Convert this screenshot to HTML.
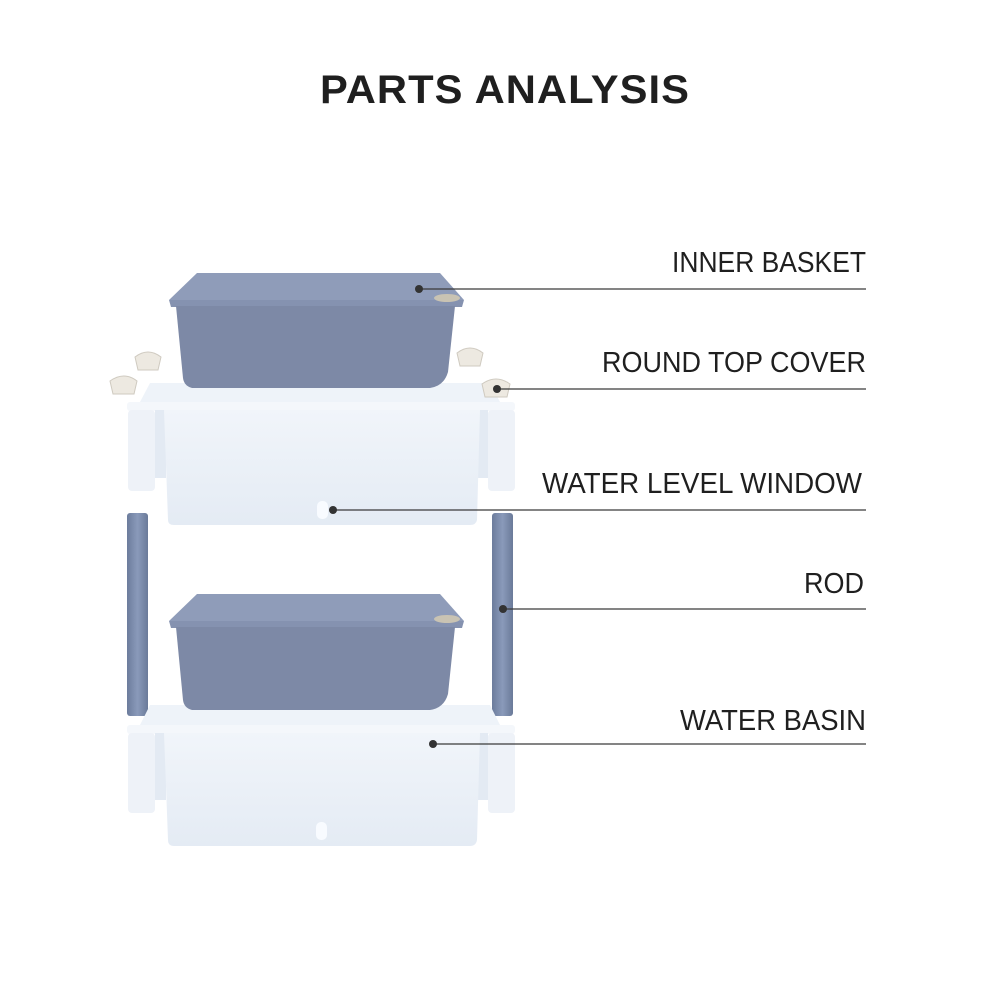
<!DOCTYPE html>
<html><head><meta charset="utf-8"><style>
html,body{margin:0;padding:0;background:#fff;}
svg{display:block;}
text{font-family:"Liberation Sans",sans-serif;fill:#1f1f1f;}
</style></head><body>
<svg width="1000" height="1000" viewBox="0 0 1000 1000" xmlns="http://www.w3.org/2000/svg">
<defs>
<linearGradient id="rod" x1="0" x2="1"><stop offset="0" stop-color="#6c7c9c"/><stop offset="0.5" stop-color="#8a9aba"/><stop offset="1" stop-color="#6a7a99"/></linearGradient>
<linearGradient id="white" x1="0" y1="0" x2="0" y2="1"><stop offset="0" stop-color="#f1f5fa"/><stop offset="1" stop-color="#e4ebf4"/></linearGradient>
</defs>
<text x="505" y="103" text-anchor="middle" font-size="40" font-weight="bold" textLength="370" lengthAdjust="spacingAndGlyphs" style="letter-spacing:1px">PARTS ANALYSIS</text>

<!-- upper white basin -->
<g>
<path d="M150 383 L490 383 L500 402 L140 402 Z" fill="#eef3f9"/>
<rect x="127" y="402" width="388" height="9" rx="3" fill="#f4f7fb"/>
<rect x="128" y="410" width="27" height="81" rx="4" fill="#eef2f8"/>
<rect x="488" y="410" width="27" height="81" rx="4" fill="#eef2f8"/>
<path d="M155 410 L166 410 L166 478 L155 478 Z" fill="#e3eaf3"/>
<path d="M478 410 L488 410 L488 478 L478 478 Z" fill="#e3eaf3"/>
<path d="M164 410 L480 410 L477 520 Q476 525 470 525 L174 525 Q168 525 168 520 Z" fill="url(#white)"/>
<rect x="317" y="501" width="11" height="18" rx="5" fill="#f8fbff"/>
</g>
<!-- upper gray basket -->
<g>
<path d="M197 273 L440 273 L464 300 L169 300 Z" fill="#8f9cb9"/>
<path d="M169 300 L464 300 L462 307 L171 307 Z" fill="#8592b0"/>
<path d="M176 306 L455 306 L448 372 Q444 386 430 388 L192 388 Q184 386 183 378 Z" fill="#7d89a6"/>
<ellipse cx="447" cy="298" rx="13" ry="4" fill="#c9c3b3"/>
</g>
<!-- caps -->
<g fill="#ede9e1" stroke="#cfcac0" stroke-width="1">
<path d="M135 357 Q148 347 161 357 L158 370 L138 370 Z"/>
<path d="M110 381 Q124 371 137 381 L134 394 L113 394 Z"/>
<path d="M457 353 Q470 343 483 353 L480 366 L460 366 Z"/>
<path d="M482 384 Q496 374 510 384 L507 397 L485 397 Z"/>
</g>
<!-- rods -->
<rect x="127" y="513" width="21" height="203" rx="3" fill="url(#rod)"/>
<rect x="492" y="513" width="21" height="203" rx="3" fill="url(#rod)"/>

<!-- lower white basin -->
<g>
<path d="M150 705 L490 705 L500 725 L140 725 Z" fill="#eef3f9"/>
<rect x="127" y="725" width="388" height="9" rx="3" fill="#f4f7fb"/>
<rect x="128" y="733" width="27" height="80" rx="4" fill="#eef2f8"/>
<rect x="488" y="733" width="27" height="80" rx="4" fill="#eef2f8"/>
<path d="M155 733 L166 733 L166 800 L155 800 Z" fill="#e3eaf3"/>
<path d="M478 733 L488 733 L488 800 L478 800 Z" fill="#e3eaf3"/>
<path d="M164 733 L480 733 L477 840 Q476 846 470 846 L174 846 Q168 846 168 840 Z" fill="url(#white)"/>
<rect x="316" y="822" width="11" height="18" rx="5" fill="#f8fbff"/>
</g>
<!-- lower gray basket -->
<g>
<path d="M197 594 L440 594 L464 621 L169 621 Z" fill="#8f9cb9"/>
<path d="M169 621 L464 621 L462 628 L171 628 Z" fill="#8592b0"/>
<path d="M176 627 L455 627 L448 694 Q444 708 430 710 L192 710 Q184 708 183 700 Z" fill="#7d89a6"/>
<ellipse cx="447" cy="619" rx="13" ry="4" fill="#c9c3b3"/>
</g>

<!-- leaders -->
<g stroke="#3a3a3a" stroke-width="1.3">
<line x1="419" y1="289" x2="866" y2="289"/>
<line x1="497" y1="389" x2="866" y2="389"/>
<line x1="333" y1="510" x2="866" y2="510"/>
<line x1="503" y1="609" x2="866" y2="609"/>
<line x1="433" y1="744" x2="866" y2="744"/>
</g>
<g fill="#333">
<circle cx="419" cy="289" r="4"/>
<circle cx="497" cy="389" r="4"/>
<circle cx="333" cy="510" r="4"/>
<circle cx="503" cy="609" r="4"/>
<circle cx="433" cy="744" r="4"/>
</g>
<g font-size="29">
<text x="866" y="272" text-anchor="end" textLength="194" lengthAdjust="spacingAndGlyphs">INNER BASKET</text>
<text x="866" y="372" text-anchor="end" textLength="264" lengthAdjust="spacingAndGlyphs">ROUND TOP COVER</text>
<text x="862" y="493" text-anchor="end" textLength="320" lengthAdjust="spacingAndGlyphs">WATER LEVEL WINDOW</text>
<text x="864" y="593" text-anchor="end" textLength="60" lengthAdjust="spacingAndGlyphs">ROD</text>
<text x="866" y="730" text-anchor="end" textLength="186" lengthAdjust="spacingAndGlyphs">WATER BASIN</text>
</g>
</svg>
</body></html>
